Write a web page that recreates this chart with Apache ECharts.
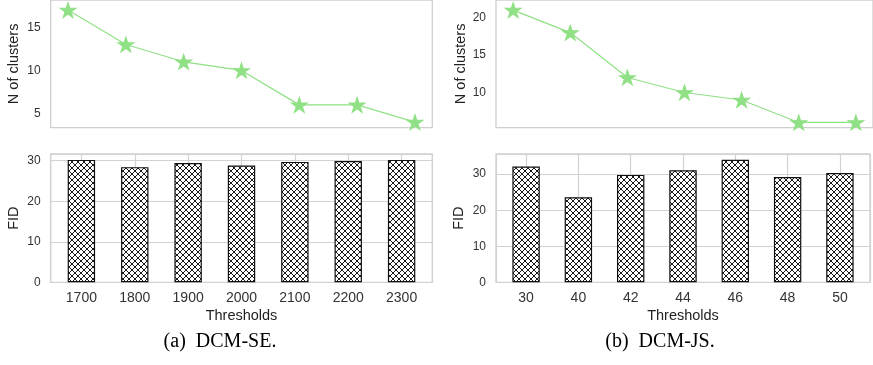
<!DOCTYPE html>
<html>
<head>
<meta charset="utf-8">
<script src="https://cdn.jsdelivr.net/npm/echarts@6/dist/echarts.min.js"></script>
<style>
html,body{margin:0;padding:0;background:#fff;}
#chart{width:873px;height:365px;}
</style>
</head>
<body>
<div id="chart"></div>
<script>
// ---- data ----
const leftThresholds = ['1700', '1800', '1900', '2000', '2100', '2200', '2300'];
const leftClusters = [17, 13, 11, 10, 6, 6, 4];
const leftFID = [30.2, 28.4, 29.4, 28.8, 29.7, 29.9, 30.2];

const rightThresholds = ['30', '40', '42', '44', '46', '48', '50'];
const rightClusters = [21, 18, 12, 10, 9, 6, 6];
const rightFID = [32.1, 23.6, 29.8, 31.1, 34.0, 29.2, 30.3];

const captions = ['(a)  DCM-SE.', '(b)  DCM-JS.'];
const xTitle = 'Thresholds';
const yTitleTop = 'N of clusters';
const yTitleBottom = 'FID';

// ---- styles ----
const FONT = '"Liberation Sans", Arial, sans-serif';
const SERIF = '"Liberation Serif", "Times New Roman", serif';
const green = '#90e085';
const starPath = 'path://M50 0 L61.23 34.55 L97.55 34.55 L68.17 55.9 L79.39 90.45 L50 69.1 L20.61 90.45 L31.83 55.9 L2.45 34.55 L38.77 34.55 Z';

function makeHatch() {
  const s = 12, c = document.createElement('canvas');
  c.width = s; c.height = s;
  const g = c.getContext('2d');
  g.fillStyle = '#ffffff'; g.fillRect(0, 0, s, s);
  g.strokeStyle = '#1a1a1a'; g.lineWidth = 1;
  const p = s / 2;
  for (let k = -3; k <= 3; k++) {
    g.beginPath(); g.moveTo(k * p, 0); g.lineTo(k * p + s, s); g.stroke();
    g.beginPath(); g.moveTo(k * p, s); g.lineTo(k * p + s, 0); g.stroke();
  }
  return c;
}
const hatch = makeHatch();

const gridStyle = { show: true, borderColor: '#cfcfcf', borderWidth: 1.3, backgroundColor: 'transparent', containLabel: false };

const grids = [
  Object.assign({ left: 50.7, top: -3, width: 381.6, height: 130.7 }, gridStyle),
  Object.assign({ left: 50.7, top: 154, width: 381.6, height: 128.3 }, gridStyle),
  Object.assign({ left: 496, top: -3, width: 380.6, height: 130.7 }, gridStyle),
  Object.assign({ left: 496, top: 154, width: 381.1, height: 128.3 }, gridStyle)
];

function topX(gi) {
  return { type: 'value', gridIndex: gi, min: -0.3, max: 6.3, show: false };
}
function bottomX(gi, cats) {
  return {
    type: 'value', gridIndex: gi, min: -0.575, max: 6.575,
    splitNumber: 7, minInterval: 1, maxInterval: 1,
    axisLine: { show: false }, axisTick: { show: false },
    splitLine: { show: true, lineStyle: { color: '#d2d2d2', width: 1.2 } },
    axisLabel: {
      margin: 9, fontFamily: FONT, fontSize: 14, color: '#333',
      formatter: v => (Math.abs(v - Math.round(v)) < 1e-6 && cats[Math.round(v)] !== undefined) ? cats[Math.round(v)] : ''
    },
    name: xTitle, nameLocation: 'middle', nameGap: 26,
    nameTextStyle: { fontFamily: FONT, fontSize: 14.5, color: '#222' }
  };
}
function topY(gi, mn, mx, gap) {
  return {
    type: 'value', gridIndex: gi, min: mn, max: mx,
    splitNumber: 3, minInterval: 5, maxInterval: 5,
    axisLine: { show: false }, axisTick: { show: false },
    splitLine: { show: false },
    axisLabel: {
      margin: 10, fontFamily: FONT, fontSize: 12, color: '#333',
      formatter: v => (Math.abs(v % 5) < 1e-6 ? String(v) : '')
    },
    name: yTitleTop, nameLocation: 'middle', nameGap: gap,
    nameTextStyle: { fontFamily: FONT, fontSize: 14.5, color: '#222' }
  };
}
function bottomY(gi, mx, gap) {
  return {
    type: 'value', gridIndex: gi, min: 0, max: mx, interval: 10,
    axisLine: { show: false }, axisTick: { show: false },
    splitLine: { show: true, lineStyle: { color: '#d2d2d2', width: 1.2 } },
    axisLabel: {
      margin: 10, fontFamily: FONT, fontSize: 12, color: '#333',
      formatter: v => (Math.abs(v % 10) < 1e-6 ? String(v) : '')
    },
    name: yTitleBottom, nameLocation: 'middle', nameGap: gap,
    nameTextStyle: { fontFamily: FONT, fontSize: 14.5, color: '#222' }
  };
}

function lineSeries(ai, vals) {
  return {
    type: 'line', xAxisIndex: ai, yAxisIndex: ai,
    data: vals.map((v, i) => [i, v]),
    symbol: starPath, symbolSize: [16, 15],
    lineStyle: { color: green, width: 1.2 },
    itemStyle: { color: green, borderColor: green, borderWidth: 1 },
    clip: false, animation: false, z: 3
  };
}
function barSeries(ai, vals) {
  return {
    type: 'bar', xAxisIndex: ai, yAxisIndex: ai,
    data: vals.map((v, i) => [i, v]),
    barWidth: 27.4,
    itemStyle: { color: { image: hatch, repeat: 'repeat' }, borderColor: '#111', borderWidth: 1.2 },
    animation: false, z: 3
  };
}

const chart = echarts.init(document.getElementById('chart'), null, { renderer: 'canvas' });
chart.setOption({
  animation: false,
  backgroundColor: '#ffffff',
  grid: grids,
  xAxis: [topX(0), bottomX(1, leftThresholds), topX(2), bottomX(3, rightThresholds)],
  yAxis: [topY(0, 3.35, 18.17, 29), bottomY(1, 31.65, 29), topY(2, 5.3, 22.35, 28), bottomY(3, 35.6, 30)],
  series: [
    lineSeries(0, leftClusters),
    barSeries(1, leftFID),
    lineSeries(2, rightClusters),
    barSeries(3, rightFID)
  ],
  graphic: [
    { type: 'text', x: 220, y: 342, style: { text: captions[0], fontFamily: SERIF, fontSize: 20, fill: '#000', align: 'center', verticalAlign: 'middle' } },
    { type: 'text', x: 660, y: 342, style: { text: captions[1], fontFamily: SERIF, fontSize: 20, fill: '#000', align: 'center', verticalAlign: 'middle' } }
  ]
});
</script>
</body>
</html>
